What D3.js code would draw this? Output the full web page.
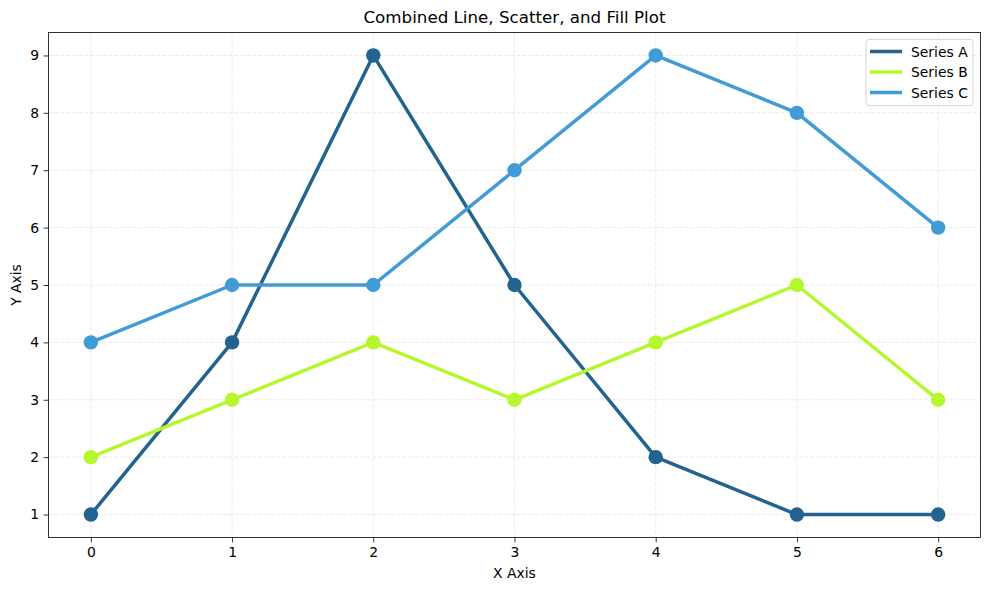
<!DOCTYPE html>
<html><head><meta charset="utf-8">
<script src="https://cdn.jsdelivr.net/npm/d3@7"></script>
<style>body{margin:0;background:#fff}svg text{font-family:"DejaVu Sans",sans-serif}</style>
</head><body><svg id="c" width="989" height="590"></svg>
<script>
const xValues = [0,1,2,3,4,5,6];
const seriesA = [1,4,9,5,2,1,1];
const seriesB = [2,3,4,3,4,5,3];
const seriesC = [4,5,5,7,9,8,6];
const seriesNames = ["Series A","Series B","Series C"];
const seriesColors = ["#22638f","#b5f72c","#419bd7"];
const xTicks = [0,1,2,3,4,5,6];
const yTicks = [1,2,3,4,5,6,7,8,9];

const svg = d3.select("#c");
const L=48.5, R=980.5, T=32.5, B=537.5;
const x = d3.scaleLinear().domain([-0.3,6.3]).range([L,R]);
const y = d3.scaleLinear().domain([0.6,9.4]).range([B,T]);

// grid
const g = svg.append("g");
g.selectAll(".gx").data(xTicks).enter().append("line")
 .attr("x1",d=>x(d)).attr("x2",d=>x(d)).attr("y1",T).attr("y2",B)
 .attr("stroke","#b0b0b0").attr("stroke-opacity",0.35).attr("stroke-dasharray","4,2").attr("stroke-width",0.8);
g.selectAll(".gy").data(yTicks).enter().append("line")
 .attr("y1",d=>y(d)).attr("y2",d=>y(d)).attr("x1",L).attr("x2",R)
 .attr("stroke","#b0b0b0").attr("stroke-opacity",0.35).attr("stroke-dasharray","4,2").attr("stroke-width",0.8);

const data = [seriesA,seriesB,seriesC];
const line = d3.line().x((d,i)=>x(xValues[i])).y(d=>y(d));
data.forEach((s,k)=>{
  svg.append("path").datum(s).attr("d",line).attr("fill","none")
   .attr("stroke",seriesColors[k]).attr("stroke-width",3.5).attr("stroke-linejoin","round");
  svg.selectAll(null).data(s).enter().append("circle")
   .attr("cx",(d,i)=>x(xValues[i])).attr("cy",d=>y(d)).attr("r",7.2)
   .attr("fill",seriesColors[k]);
});

// axes
const xa = svg.append("g").attr("transform",`translate(0,${B})`)
 .call(d3.axisBottom(x).tickValues(xTicks).tickSize(4.9).tickPadding(4.5).tickFormat(d3.format("d")));
const ya = svg.append("g").attr("transform",`translate(${L},0)`)
 .call(d3.axisLeft(y).tickValues(yTicks).tickSize(4.9).tickPadding(4.5).tickFormat(d3.format("d")));
[xa,ya].forEach(a=>{a.select(".domain").remove();
  a.selectAll("text").attr("font-size","13.9px").attr("fill","#000").style("font-family","DejaVu Sans");
  a.selectAll("line").attr("stroke","#000").attr("stroke-width",0.8);});
svg.append("rect").attr("x",L).attr("y",T).attr("width",R-L).attr("height",B-T)
 .attr("fill","none").attr("stroke","#000").attr("stroke-width",0.8);

svg.append("text").attr("x",(L+R)/2).attr("y",23).attr("text-anchor","middle")
 .attr("font-size","16.7px").text("Combined Line, Scatter, and Fill Plot");
svg.append("text").attr("x",(L+R)/2).attr("y",578).attr("text-anchor","middle")
 .attr("font-size","13.9px").text("X Axis");
svg.append("text").attr("transform",`translate(21,${(T+B)/2}) rotate(-90)`).attr("text-anchor","middle")
 .attr("font-size","13.9px").text("Y Axis");

// legend
const lg = svg.append("g");
lg.append("rect").attr("x",866).attr("y",39.5).attr("width",107).attr("height",66).attr("rx",3)
 .attr("fill","#fff").attr("fill-opacity",0.8).attr("stroke","#cccccc").attr("stroke-width",0.8);
seriesNames.forEach((n,k)=>{
  const yy = 51.5 + k*20.5;
  lg.append("line").attr("x1",870).attr("x2",902).attr("y1",yy).attr("y2",yy)
   .attr("stroke",seriesColors[k]).attr("stroke-width",3.5);
  lg.append("text").attr("x",911).attr("y",yy+5).attr("font-size","13.9px").text(n);
});
</script></body></html>
